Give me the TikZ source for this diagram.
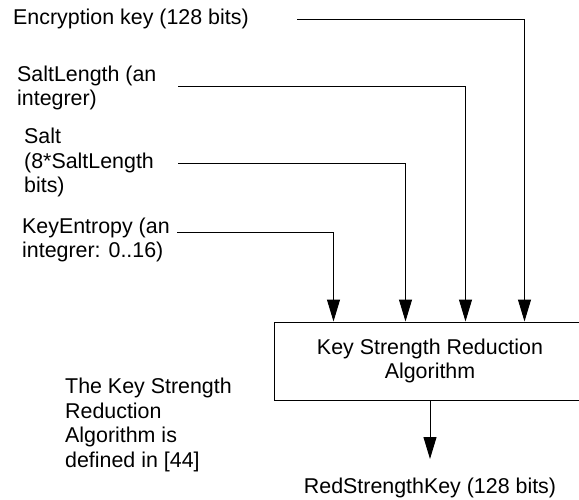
\documentclass[tikz,border=0pt]{standalone}
\usepackage{fontspec}
\setmainfont{Liberation Sans}
\usetikzlibrary{arrows.meta}
\begin{document}
\begin{tikzpicture}[x=1pt,y=-1pt,
  lbl/.style={inner sep=0pt,anchor=west,align=left,font=\fontsize{21.4}{24.5}\selectfont},
  algbox/.style={draw,line width=1pt,inner sep=0pt,minimum width=312pt,minimum height=78pt,align=center,font=\fontsize{21.4}{24}\selectfont},
  arr/.style={line width=1pt,-{Triangle[length=22pt,width=13pt]}},
  plain/.style={line width=1pt}]
\useasboundingbox (0,0) rectangle (579,499);
\node[lbl] (ek) at (13,19) {Encryption key (128 bits)};
\node[lbl] (sl) at (17,88) {SaltLength (an\\integrer)};
\node[lbl] (salt) at (24,162.5) {Salt\\(8*SaltLength\\bits)};
\node[lbl] (ke) at (22,240) {KeyEntropy (an\\integrer: 0..16)};
\node[algbox] (box) at (430,361) {Key Strength Reduction\\Algorithm};
\node[lbl] (note) at (65,425) {The Key Strength\\Reduction\\Algorithm is\\defined in [44]};
\node[lbl,anchor=center] (out) at (430,488) {RedStrengthKey (128 bits)};
\coordinate (l1) at (297,19);
\coordinate (l2) at (178,86);
\coordinate (l3) at (178,163);
\coordinate (l4) at (177,232);
\path (box.north west) ++(251,0) coordinate (t1);
\path (box.north west) ++(192,0) coordinate (t2);
\path (box.north west) ++(132,0) coordinate (t3);
\path (box.north west) ++(60,0) coordinate (t4);
\coordinate (outtip) at (430,459);
\draw[arr] (l1) -| (t1);
\draw[arr] (l2) -| (t2);
\draw[arr] (l3) -| (t3);
\draw[arr] (l4) -| (t4);
\draw[arr] (box.south) -- (outtip);
\end{tikzpicture}
\end{document}
